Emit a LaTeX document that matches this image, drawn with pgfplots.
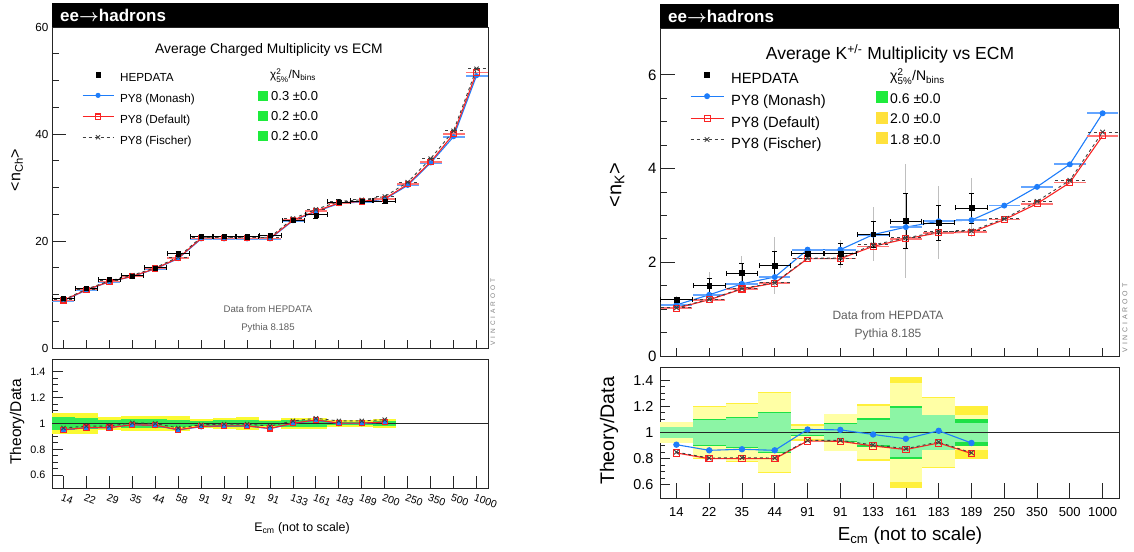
\documentclass[border=0pt]{standalone}
\usepackage{pgfplots}
\pgfplotsset{compat=1.18}
\usepackage{pgfplotstable}
\usepackage{amsmath}
\usepackage{fontspec}
\setmainfont{Liberation Sans}

\definecolor{mcblue}{RGB}{30,125,250}
\definecolor{mcbluel}{RGB}{100,165,255}
\definecolor{mcred}{RGB}{250,35,35}
\definecolor{mcredl}{RGB}{255,115,115}
\definecolor{bandY}{RGB}{250,250,50}
\definecolor{bandG}{RGB}{50,235,85}
\definecolor{bandYs}{RGB}{255,240,60}
\definecolor{bandGs}{RGB}{30,225,70}
\definecolor{bandYp}{RGB}{255,255,165}
\definecolor{bandGp}{RGB}{140,245,165}
\definecolor{chiG}{RGB}{30,235,60}
\definecolor{chiY}{RGB}{255,225,60}
\definecolor{txtgray}{RGB}{95,95,95}

\newcommand{\fs}[1]{\fontsize{#1}{#1}\selectfont}

% ---------------- left panel: charged multiplicity ----------------
\pgfplotstableread{
x mon def fis
0 8.84 8.9 9.0
1 10.83 10.9 11.0
2 12.38 12.4 12.55
3 13.37 13.4 13.6
4 14.78 14.85 15.0
5 16.72 16.8 17.0
6 20.4 20.5 20.7
7 20.4 20.5 20.7
8 20.4 20.5 20.7
9 20.4 20.5 20.7
10 23.8 23.9 24.2
11 25.5 25.6 25.9
12 27.0 27.1 27.4
13 27.3 27.4 27.7
14 27.8 27.9 28.3
15 30.4 30.6 31.0
16 34.6 34.8 35.4
17 39.5 40.0 40.6
18 50.9 51.5 52.2
}\LMC
\pgfplotstableread{
x y e
0 9.3 0.4
1 11.2 0.4
2 12.8 0.4
3 13.5 0.4
4 15.0 0.4
5 17.6 0.5
6 20.9 0.4
7 20.9 0.4
8 20.8 0.4
9 21.1 0.4
10 23.9 0.5
11 24.9 0.6
12 27.3 0.5
13 27.5 0.5
14 27.5 0.5
}\LDATA
\pgfplotstableread{
x rmon rdef rfis c yel grn
0 0.95 0.952 0.965 1 0.085 0.05
1 0.967 0.968 0.98 1 0.08 0.045
2 0.967 0.968 0.98 1 0.05 0.03
3 0.99 0.99 1.005 1 0.06 0.035
4 0.985 0.987 1.0 1 0.06 0.035
5 0.95 0.952 0.965 1 0.055 0.03
6 0.975 0.978 0.99 1 0.035 0.02
7 0.98 0.982 0.995 1 0.04 0.025
8 0.98 0.982 0.995 1 0.05 0.03
9 0.96 0.962 0.98 1 0.03 0.02
10 1.0 1.002 1.02 1 0.045 0.025
11 1.025 1.028 1.04 1 0.04 0.025
12 1.0 1.003 1.02 1 0.03 0.015
13 1.0 1.003 1.02 1 0.03 0.015
14 1.01 1.012 1.03 1 0.035 0.02
}\LRAT

% ---------------- right panel: K multiplicity ----------------
\pgfplotstableread{
x mon def fis
0 1.09 1.02 1.03
1 1.306 1.20 1.21
2 1.54 1.43 1.44
3 1.685 1.556 1.565
4 2.27 2.077 2.09
5 2.27 2.077 2.09
6 2.59 2.34 2.37
7 2.75 2.50 2.52
8 2.875 2.63 2.65
9 2.90 2.64 2.67
10 3.21 2.91 2.93
11 3.61 3.25 3.30
12 4.09 3.70 3.75
13 5.18 4.70 4.78
}\RMC
\pgfplotstableread{
x y stat tot
0 1.20 0.05 0.08
1 1.50 0.16 0.30
2 1.77 0.20 0.37
3 1.93 0.31 0.60
4 2.19 0.05 0.10
5 2.18 0.22 0.30
6 2.60 0.28 0.58
7 2.88 0.59 1.21
8 2.84 0.38 0.78
9 3.16 0.32 0.63
}\RDATA
\pgfplotstableread{
x rmon rdef rfis c yo yi go gi
0 0.907 0.844 0.85 1 0.083 0.08 0.043 0.04
1 0.864 0.80 0.805 1 0.20 0.195 0.10 0.096
2 0.872 0.80 0.808 1 0.225 0.22 0.115 0.11
3 0.864 0.80 0.805 1 0.31 0.305 0.155 0.15
4 1.023 0.935 0.94 1 0.065 0.05 0.03 0.02
5 1.02 0.933 0.94 1 0.145 0.14 0.072 0.068
6 0.985 0.897 0.905 1 0.22 0.20 0.11 0.095
7 0.952 0.87 0.877 1 0.42 0.38 0.205 0.19
8 1.013 0.92 0.927 1 0.273 0.265 0.137 0.13
9 0.92 0.84 0.845 1 0.20 0.13 0.10 0.07
}\RRAT

\pgfplotsset{
  base/.style={scale only axis, anchor=south west,
    axis line style={black!85, line width=0.9pt},
    tick align=inside, tick pos=left,
    tick style={black!85, line width=0.8pt},
    /pgf/number format/assume math mode=true},
  band/.style 2 args={draw=none, mark=none, error bars/.cd, y dir=both, y explicit, error mark=none,
    error bar style={draw=#1, line width=#2}},
}

\begin{document}
\begin{tikzpicture}
\useasboundingbox (0pt,0pt) rectangle (1134pt,551pt);

%================= LEFT MAIN =================
\begin{axis}[base, at={(52pt,203pt)}, width=436pt, height=321pt,
  xmin=-0.5, xmax=18.5, ymin=0, ymax=60,
  xtick={0,...,18}, xticklabels={},
  ytick={0,20,40,60}, minor y tick num=3,
  major tick length=14pt, minor tick length=7pt,
  xtick style={/pgfplots/major tick length=8pt},
  yticklabel style={font=\fs{11.7}},
  legend style={at={(0.0688,0.858)}, anchor=north west, draw=none, fill=none,
    inner sep=0pt, outer sep=0pt, row sep=9.2pt, font=\fs{11.7},
    nodes={inner sep=0pt, text height=8.4pt, text depth=2.4pt},
    /tikz/every odd column/.append style={column sep=6pt}, cells={anchor=west}},
  legend image code/.code={\draw[mark repeat=2,mark phase=2,#1] plot coordinates {(0pt,4pt) (15.5pt,4pt) (31pt,4pt)};},
]
\addlegendimage{only marks, mark=square*, mark size=2.2pt, black}
\addlegendentry{HEPDATA}
\addplot[mcblue, line width=1.1pt, mark=*, mark size=2pt,
  error bars/.cd, x dir=both, x fixed=0.48, error mark=none,
  error bar style={solid, line width=1.8pt, mcbluel}] table[x=x, y=mon] {\LMC};
\addlegendentry{PY8 (Monash)}
\addplot[mcred, line width=1.1pt, mark=square, mark size=2.6pt, mark options={solid},
  error bars/.cd, x dir=both, x fixed=0.48, error mark=none,
  error bar style={solid, line width=1.6pt, mcredl}] table[x=x, y=def] {\LMC};
\addlegendentry{PY8 (Default)}
\addplot[black!75, dashed, line width=0.9pt, mark=x, mark size=3pt, mark options={solid},
  error bars/.cd, x dir=both, x fixed=0.48, error mark=none,
  error bar style={dashed, line width=0.9pt, black!75}] table[x=x, y=fis] {\LMC};
\addlegendentry{PY8 (Fischer)}
\addplot[forget plot, black, only marks, mark=square*, mark size=2pt,
  error bars/.cd, x dir=both, x fixed=0.48, y dir=both, y explicit,
  error mark options={rotate=90, mark size=2.5pt, line width=0.7pt},
  error bar style={line width=0.7pt, black}] table[x=x, y=y, y error=e] {\LDATA};
\end{axis}

%================= LEFT RATIO =================
\begin{axis}[base, at={(52pt,63pt)}, width=436pt, height=129pt,
  xmin=-0.5, xmax=18.5, ymin=0.5, ymax=1.5,
  xtick={0,...,18},
  xticklabels={14,22,29,35,44,58,91,91,91,91,133,161,183,189,200,250,350,500,1000},
  ytick={0.6,0.8,1,1.2,1.4}, minor y tick num=3,
  major tick length=11pt, minor tick length=5.5pt,
  xtick style={/pgfplots/major tick length=12pt},
  yticklabel style={font=\fs{10.8}, xshift=-3pt},
  xticklabel style={font=\fs{10.5}, rotate=-20, anchor=north west, inner sep=0pt, xshift=1pt, yshift=-5pt},
]
\addplot[band={bandY}{22.95pt}] table[x=x, y=c, y error=yel] {\LRAT};
\addplot[band={bandG}{22.95pt}] table[x=x, y=c, y error=grn] {\LRAT};
\addplot[black!85, line width=0.8pt] coordinates {(-0.5,1) (18.5,1)};
\addplot[mcblue, line width=1.1pt, mark=*, mark size=2.2pt] table[x=x, y=rmon] {\LRAT};
\addplot[mcred, line width=1.1pt, mark=square, mark size=2.6pt] table[x=x, y=rdef] {\LRAT};
\addplot[black!75, dashed, line width=0.9pt, mark=x, mark size=3pt, mark options={solid}] table[x=x, y=rfis] {\LRAT};
\end{axis}

%================= RIGHT MAIN =================
\begin{axis}[base, at={(660pt,195pt)}, width=459pt, height=328pt,
  xmin=-0.5, xmax=13.5, ymin=0, ymax=7,
  xtick={0,...,13}, xticklabels={},
  ytick={0,2,4,6}, minor y tick num=3,
  major tick length=15pt, minor tick length=7pt,
  xtick style={/pgfplots/major tick length=8pt},
  yticklabel style={font=\fs{15}},
  legend style={at={(0.0654,0.8646)}, anchor=north west, draw=none, fill=none,
    inner sep=0pt, outer sep=0pt, row sep=6.9pt, font=\fs{14.8},
    nodes={inner sep=0pt, text height=10.6pt, text depth=3pt},
    /tikz/every odd column/.append style={column sep=7pt}, cells={anchor=west}},
  legend image code/.code={\draw[mark repeat=2,mark phase=2,#1] plot coordinates {(0pt,5.3pt) (16.5pt,5.3pt) (33pt,5.3pt)};},
]
\addlegendimage{only marks, mark=square*, mark size=2.4pt, black}
\addlegendentry{HEPDATA}
\addplot[mcblue, line width=1.1pt, mark=*, mark size=2.4pt,
  error bars/.cd, x dir=both, x fixed=0.48, error mark=none,
  error bar style={solid, line width=1.8pt, mcbluel}] table[x=x, y=mon] {\RMC};
\addlegendentry{PY8 (Monash)}
\addplot[mcred, line width=1.1pt, mark=square, mark size=3pt, mark options={solid},
  error bars/.cd, x dir=both, x fixed=0.48, error mark=none,
  error bar style={solid, line width=1.6pt, mcredl}] table[x=x, y=def] {\RMC};
\addlegendentry{PY8 (Default)}
\addplot[black!75, dashed, line width=0.9pt, mark=x, mark size=3.2pt, mark options={solid},
  error bars/.cd, x dir=both, x fixed=0.48, error mark=none,
  error bar style={dashed, line width=0.9pt, black!75}] table[x=x, y=fis] {\RMC};
\addlegendentry{PY8 (Fischer)}
\addplot[forget plot, band={black!25}{1pt}] table[x=x, y=y, y error=tot] {\RDATA};
\addplot[forget plot, black, only marks, mark=square*, mark size=2.4pt,
  error bars/.cd, x dir=both, x fixed=0.48, y dir=both, y explicit,
  error mark options={rotate=90, mark size=2.5pt, line width=0.7pt},
  error bar style={line width=0.8pt, black}] table[x=x, y=y, y error=stat] {\RDATA};
\end{axis}

%================= RIGHT RATIO =================
\begin{axis}[base, at={(660pt,53pt)}, width=459pt, height=131pt,
  xmin=-0.5, xmax=13.5, ymin=0.5, ymax=1.5,
  xtick={0,...,13},
  xticklabels={14,22,35,44,91,91,133,161,183,189,250,350,500,1000},
  ytick={0.6,0.8,1,1.2,1.4}, minor y tick num=3,
  major tick length=10pt, minor tick length=5pt,
  xtick style={/pgfplots/major tick length=15pt},
  yticklabel style={font=\fs{14.4}, xshift=-3pt},
  xticklabel style={font=\fs{13}, anchor=north, inner sep=0pt, yshift=-9pt},
]
\addplot[band={bandYs}{32.79pt}] table[x=x, y=c, y error=yo] {\RRAT};
\addplot[band={bandYp}{32.79pt}] table[x=x, y=c, y error=yi] {\RRAT};
\addplot[band={bandGs}{32.79pt}] table[x=x, y=c, y error=go] {\RRAT};
\addplot[band={bandGp}{32.79pt}] table[x=x, y=c, y error=gi] {\RRAT};
\addplot[black!85, line width=0.8pt] coordinates {(-0.5,1) (13.5,1)};
\addplot[mcblue, line width=1.1pt, mark=*, mark size=2.6pt] table[x=x, y=rmon] {\RRAT};
\addplot[mcred, line width=1.1pt, mark=square, mark size=3.2pt] table[x=x, y=rdef] {\RRAT};
\addplot[black!75, dashed, line width=0.9pt, mark=x, mark size=3.2pt, mark options={solid}] table[x=x, y=rfis] {\RRAT};
\end{axis}

%================= decorations / texts =================
% headers
\fill[black] (52pt,524pt) rectangle (488pt,548pt);
\node[anchor=base west, inner sep=0pt, text=white, font=\fs{17}\bfseries] at (60pt,529.5pt) {ee$\boldsymbol{\rightarrow}$hadrons};
\fill[black] (660pt,523pt) rectangle (1119pt,547pt);
\node[anchor=base west, inner sep=0pt, text=white, font=\fs{17}\bfseries] at (668pt,528pt) {ee$\boldsymbol{\rightarrow}$hadrons};

% titles
\node[anchor=base, inner sep=0pt, font=\fs{13.8}] at (269pt,497pt) {Average Charged Multiplicity vs ECM};
\node[anchor=base, inner sep=0pt, font=\fs{17.5}] at (890pt,491pt) {Average K$^{\text{+/-}}$ Multiplicity vs ECM};

% chi2 columns left
\node[anchor=base west, inner sep=0pt, font=\fs{11.7}] at (270pt,472pt) {χ$^{\text{2}}_{\text{5\%}}$/N$_{\text{bins}}$};
\node[anchor=base west, inner sep=0pt, font=\fs{13}] at (258pt,450pt) {\textcolor{chiG}{\rule{10pt}{10pt}}\hspace{3pt}0.3 ±0.0};
\node[anchor=base west, inner sep=0pt, font=\fs{13}] at (258pt,430pt) {\textcolor{chiG}{\rule{10pt}{10pt}}\hspace{3pt}0.2 ±0.0};
\node[anchor=base west, inner sep=0pt, font=\fs{13}] at (258pt,410pt) {\textcolor{chiG}{\rule{10pt}{10pt}}\hspace{3pt}0.2 ±0.0};
% chi2 columns right
\node[anchor=base west, inner sep=0pt, font=\fs{14}] at (890pt,470pt) {χ$^{\text{2}}_{\text{5\%}}$/N$_{\text{bins}}$};
\node[anchor=base west, inner sep=0pt, font=\fs{14}] at (876pt,447.5pt) {\textcolor{chiG}{\rule{12pt}{12pt}}\hspace{2pt}0.6 ±0.0};
\node[anchor=base west, inner sep=0pt, font=\fs{14}] at (876pt,427pt) {\textcolor{chiY}{\rule{12pt}{12pt}}\hspace{2pt}2.0 ±0.0};
\node[anchor=base west, inner sep=0pt, font=\fs{14}] at (876pt,406.5pt) {\textcolor{chiY}{\rule{12pt}{12pt}}\hspace{2pt}1.8 ±0.0};

% data source texts
\node[anchor=base, inner sep=0pt, font=\fs{9.6}, text=txtgray] at (268pt,238pt) {Data from HEPDATA};
\node[anchor=base, inner sep=0pt, font=\fs{9.6}, text=txtgray] at (268pt,220pt) {Pythia 8.185};
\node[anchor=base, inner sep=0pt, font=\fs{12}, text=txtgray] at (888pt,231.5pt) {Data from HEPDATA};
\node[anchor=base, inner sep=0pt, font=\fs{12}, text=txtgray] at (888pt,213.5pt) {Pythia 8.185};

% VINCIAROOT
\node[rotate=90, inner sep=0pt, font=\fs{6.5}\addfontfeatures{LetterSpace=45}, text=gray] at (493pt,239pt) {VINCIAROOT};
\node[rotate=90, inner sep=0pt, font=\fs{7}\addfontfeatures{LetterSpace=40}, text=gray] at (1125pt,233pt) {VINCIAROOT};

% axis labels
\node[rotate=90, inner sep=0pt, font=\fs{16}] at (17pt,381pt) {<n$_{\text{Ch}}$>};
\node[rotate=90, inner sep=0pt, font=\fs{15.5}] at (17pt,129pt) {Theory/Data};
\node[anchor=base, inner sep=0pt, font=\fs{12.4}] at (302pt,19.3pt) {E$_{\text{cm}}$ (not to scale)};
\node[rotate=90, inner sep=0pt, font=\fs{20}] at (617pt,366pt) {<n$_{\text{K}}$>};
\node[rotate=90, inner sep=0pt, font=\fs{19.6}] at (609pt,120pt) {Theory/Data};
\node[anchor=base, inner sep=0pt, font=\fs{18.8}] at (910pt,10.3pt) {E$_{\text{cm}}$ (not to scale)};
\end{tikzpicture}
\end{document}
